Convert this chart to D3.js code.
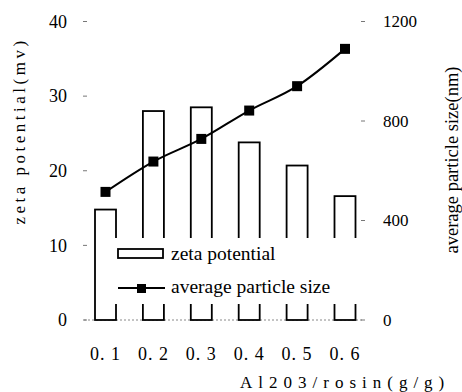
<!DOCTYPE html>
<html>
<head>
<meta charset="utf-8">
<script src="https://cdn.jsdelivr.net/npm/d3@7"></script>
<style>
  body { margin: 0; background: #fff; }
  svg { display: block; }
</style>
</head>
<body>
<svg id="chart" width="462" height="392"></svg>
<script>
// data
const ratios = ["0.1", "0.2", "0.3", "0.4", "0.5", "0.6"];
const ratioLabels = ["0. 1", "0. 2", "0. 3", "0. 4", "0. 5", "0. 6"];
const zeta = [14.8, 28.0, 28.5, 23.8, 20.7, 16.6];
const particleSize = [515, 637, 728, 842, 940, 1090];
const zetaTicks = [0, 10, 20, 30, 40];
const sizeTicks = [0, 400, 800, 1200];

const svg = d3.select("#chart");
const serif = "'Liberation Serif', 'DejaVu Serif', serif";

const x = d3.scalePoint().domain(ratios).range([105.5, 345]);
const yL = d3.scaleLinear().domain([0, 40]).range([320, 21.5]);
const yR = d3.scaleLinear().domain([0, 1200]).range([320, 21.5]);
const barW = 21;

// dotted base line
svg.append("line")
    .attr("x1", 84).attr("x2", 362)
    .attr("y1", yL(0)).attr("y2", yL(0))
    .style("stroke", "#888")
    .style("stroke-width", 1)
    .style("stroke-dasharray", "2,2");

// bars
svg.append("g").selectAll("rect")
    .data(zeta)
    .join("rect")
    .attr("x", (d, i) => x(ratios[i]) - barW / 2)
    .attr("y", d => yL(d))
    .attr("width", barW)
    .attr("height", d => yL(0) - yL(d))
    .style("fill", "#fff")
    .style("stroke", "#000")
    .style("stroke-width", 1.8);

// legend box covers bars
svg.append("rect")
    .attr("x", 97).attr("y", 238)
    .attr("width", 264).attr("height", 66)
    .style("fill", "#fff");

// line
var line = d3.line()
    .x((d, i) => x(ratios[i]))
    .y(d => yR(d))
    .curve(d3.curveMonotoneX);

svg.append("path")
    .datum(particleSize)
    .attr("d", line)
    .style("fill", "none")
    .style("stroke", "#000")
    .style("stroke-width", 2);

svg.append("g").selectAll("rect")
    .data(particleSize)
    .join("rect")
    .attr("x", (d, i) => x(ratios[i]) - 5)
    .attr("y", d => yR(d) - 5)
    .attr("width", 10).attr("height", 10)
    .style("fill", "#000");

// left axis
const left = svg.append("g");
left.selectAll("line")
    .data(zetaTicks)
    .join("line")
    .attr("x1", 83).attr("x2", 87)
    .attr("y1", d => yL(d)).attr("y2", d => yL(d))
    .style("stroke", "#777");
left.selectAll("text")
    .data(zetaTicks)
    .join("text")
    .attr("x", 67)
    .attr("y", d => yL(d))
    .attr("dy", "0.35em")
    .attr("text-anchor", "end")
    .style("font-family", serif)
    .style("font-size", "18px")
    .text(d => d);

// right axis
const right = svg.append("g");
right.selectAll("line")
    .data(sizeTicks)
    .join("line")
    .attr("x1", 361).attr("x2", 365)
    .attr("y1", d => yR(d)).attr("y2", d => yR(d))
    .style("stroke", "#777");
right.selectAll("text")
    .data(sizeTicks)
    .join("text")
    .attr("x", 383)
    .attr("y", d => yR(d))
    .attr("dy", "0.35em")
    .style("font-family", serif)
    .style("font-size", "17px")
    .text(d => d);

// x labels
svg.append("g").selectAll("text")
    .data(ratios)
    .join("text")
    .attr("x", d => x(d))
    .attr("y", 360)
    .attr("text-anchor", "middle")
    .style("font-family", serif)
    .style("font-size", "18px")
    .style("letter-spacing", "1px")
    .text((d, i) => ratioLabels[i]);

// axis titles
svg.append("text")
    .attr("x", 240).attr("y", 388)
    .style("font-family", serif)
    .style("font-size", "17px")
    .style("letter-spacing", "6px")
    .text("Al203/rosin(g/g)");

svg.append("text")
    .attr("transform", "translate(25,131) rotate(-90)")
    .attr("text-anchor", "middle")
    .style("font-family", serif)
    .style("font-size", "17px")
    .style("letter-spacing", "3.5px")
    .text("zeta potential(mv)");

svg.append("text")
    .attr("transform", "translate(458,160) rotate(-90)")
    .attr("text-anchor", "middle")
    .style("font-family", serif)
    .style("font-size", "18.5px")
    .text("average particle size(nm)");

// legend
svg.append("rect")
    .attr("x", 118).attr("y", 249)
    .attr("width", 45).attr("height", 9)
    .style("fill", "#fff")
    .style("stroke", "#000")
    .style("stroke-width", 1.8);
svg.append("text")
    .attr("x", 171).attr("y", 260)
    .style("font-family", serif)
    .style("font-size", "19.5px")
    .text("zeta potential");

svg.append("line")
    .attr("x1", 118).attr("x2", 165)
    .attr("y1", 288).attr("y2", 288)
    .style("stroke", "#000")
    .style("stroke-width", 2);
svg.append("rect")
    .attr("x", 137).attr("y", 284)
    .attr("width", 9).attr("height", 9)
    .style("fill", "#000");
svg.append("text")
    .attr("x", 171).attr("y", 293)
    .style("font-family", serif)
    .style("font-size", "19.5px")
    .text("average particle size");
</script>
</body>
</html>
